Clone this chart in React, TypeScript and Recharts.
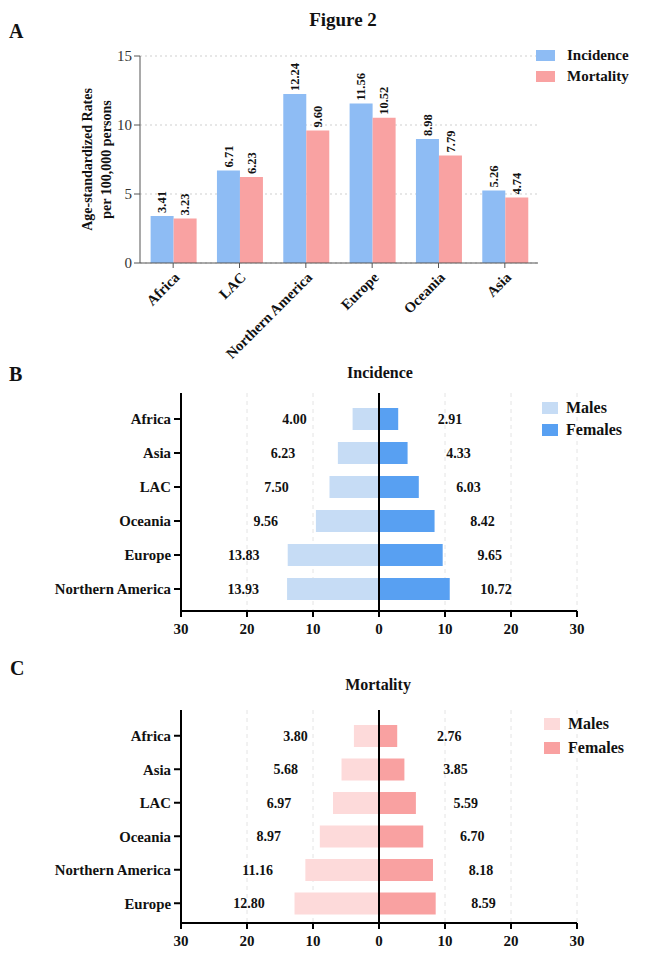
import React from 'react';
import {
  BarChart,
  Bar,
  XAxis,
  YAxis,
  CartesianGrid,
  Legend,
  LabelList,
  ReferenceLine,
  Label,
} from 'recharts';

const FONT = "'Liberation Serif', 'Times New Roman', Times, serif";

// ---------- Panel A data ----------
const regionsA = ['Africa', 'LAC', 'Northern America', 'Europe', 'Oceania', 'Asia'];
const incidenceA = [3.41, 6.71, 12.24, 11.56, 8.98, 5.26];
const mortalityA = [3.23, 6.23, 9.6, 10.52, 7.79, 4.74];
const ticksA = [0, 5, 10, 15];

// ---------- Panel B data (Incidence by sex) ----------
const regionsB = ['Africa', 'Asia', 'LAC', 'Oceania', 'Europe', 'Northern America'];
const malesB = [4.0, 6.23, 7.5, 9.56, 13.83, 13.93];
const femalesB = [2.91, 4.33, 6.03, 8.42, 9.65, 10.72];

// ---------- Panel C data (Mortality by sex) ----------
const regionsC = ['Africa', 'Asia', 'LAC', 'Oceania', 'Northern America', 'Europe'];
const malesC = [3.8, 5.68, 6.97, 8.97, 11.16, 12.8];
const femalesC = [2.76, 3.85, 5.59, 6.7, 8.18, 8.59];

const ticksPyr = [-30, -20, -10, 0, 10, 20, 30];
const legendOrder = ['Incidence', 'Mortality', 'Males', 'Females'];

const COLORS = {
  incidence: '#8ebcf4',
  mortality: '#f9a2a2',
  bMale: '#c6dcf5',
  bFemale: '#58a0f2',
  cMale: '#fddada',
  cFemale: '#f9a1a1',
};

const dataA = regionsA.map((r, i) => ({ region: r, incidence: incidenceA[i], mortality: mortalityA[i] }));
const makePyr = (regions: string[], males: number[], females: number[]) =>
  regions.map((r, i) => ({ region: r, male: males[i], maleNeg: -males[i], female: females[i] }));
const dataB = makePyr(regionsB, malesB, femalesB);
const dataC = makePyr(regionsC, malesC, femalesC);

// ---------- helpers ----------
const legendContent = (sq: [number, number], rowH: number, gap: number, fontSize: number) => (props: any) => {
  const payload = [...(props.payload || [])].sort(
    (a: any, b: any) => legendOrder.indexOf(a.value) - legendOrder.indexOf(b.value)
  );
  return (
    <div style={{ fontFamily: FONT, fontWeight: 'bold', fontSize, color: '#111' }}>
      {payload.map((it: any) => (
        <div key={it.value} style={{ display: 'flex', alignItems: 'center', height: rowH, whiteSpace: 'nowrap' }}>
          <span style={{ display: 'inline-block', width: sq[0], height: sq[1], background: it.color, marginRight: gap }} />
          <span>{it.value}</span>
        </div>
      ))}
    </div>
  );
};

const ABarLabel = (props: any) => {
  const { x, y, width, value } = props;
  const cx = x + width / 2;
  const ty = y - 3;
  return (
    <text
      transform={`translate(${cx},${ty}) rotate(-90)`}
      x={0}
      y={0}
      dy="0.35em"
      textAnchor="start"
      fontFamily={FONT}
      fontWeight="bold"
      fontSize={12.5}
      fill="#111"
    >
      {Number(value).toFixed(2)}
    </text>
  );
};

const ATick = (props: any) => {
  const { x, y, payload } = props;
  return (
    <text
      x={x}
      y={y}
      dy="0.71em"
      textAnchor="end"
      transform={`rotate(-45, ${x}, ${y})`}
      fontFamily={FONT}
      fontWeight="bold"
      fontSize={14.6}
      fill="#111"
    >
      {payload.value}
    </text>
  );
};

const pyrLabel = (side: 'male' | 'female') => (props: any) => {
  const { x, y, width, height, value } = props;
  const w = Math.abs(width);
  const left = Math.min(x, x + width);
  const right = Math.max(x, x + width);
  const cx = side === 'male' ? left - 64 + 0.22 * w : right + 54 - 0.11 * w;
  return (
    <text
      x={cx}
      y={y + height / 2}
      dy="0.35em"
      textAnchor="middle"
      fontFamily={FONT}
      fontWeight="bold"
      fontSize={14}
      fill="#111"
    >
      {Number(value).toFixed(2)}
    </text>
  );
};

const tickStyleBold = { fontFamily: FONT, fontWeight: 'bold', fontSize: 14.8, fill: '#111' } as any;

const Pyramid = (p: {
  data: any[];
  top: number;
  height: number;
  marginTop: number;
  marginBottom: number;
  pad: { top: number; bottom: number };
  maleColor: string;
  femaleColor: string;
  legendTop: number;
  legendLeft: number;
  legendRowH: number;
}) => (
  <div style={{ position: 'absolute', left: 0, top: p.top }}>
    <BarChart
      width={666}
      height={p.height}
      data={p.data}
      layout="vertical"
      stackOffset="sign"
      margin={{ top: p.marginTop, right: 9, bottom: p.marginBottom, left: 0 }}
    >
      <CartesianGrid horizontal={false} stroke="#e4e4e4" strokeDasharray="4 4" />
      <XAxis
        type="number"
        domain={[-30, 30]}
        ticks={ticksPyr}
        tickFormatter={(v: number) => String(Math.abs(v))}
        axisLine={{ stroke: '#000', strokeWidth: 2 }}
        tickLine={{ stroke: '#000', strokeWidth: 2 }}
        tickSize={6}
        tickMargin={6}
        height={30}
        tick={{ ...tickStyleBold, fontSize: 15 }}
        allowDataOverflow
      />
      <YAxis
        type="category"
        dataKey="region"
        width={181}
        padding={p.pad}
        axisLine={{ stroke: '#000', strokeWidth: 2 }}
        tickLine={{ stroke: '#000', strokeWidth: 2 }}
        tickSize={7}
        tickMargin={3}
        tick={tickStyleBold}
        interval={0}
      />
      <Legend
        layout="vertical"
        verticalAlign="top"
        align="right"
        content={legendContent([16, 12], p.legendRowH, 8, 16)}
        wrapperStyle={{ width: 80, left: p.legendLeft, top: p.legendTop, right: 'auto' }}
      />
      <Bar dataKey="maleNeg" name="Males" stackId="s" fill={p.maleColor} barSize={22} isAnimationActive={false}>
        <LabelList dataKey="male" content={pyrLabel('male')} />
      </Bar>
      <Bar dataKey="female" name="Females" stackId="s" fill={p.femaleColor} barSize={22} isAnimationActive={false}>
        <LabelList dataKey="female" content={pyrLabel('female')} />
      </Bar>
      <ReferenceLine x={0} stroke="#000" strokeWidth={2} />
    </BarChart>
  </div>
);

export default function App() {
  return (
    <div style={{ position: 'absolute', left: 0, top: 0, width: 666, height: 962, background: '#fff', fontFamily: FONT }}>
      {/* Panel A */}
      <div style={{ position: 'absolute', left: 0, top: 0 }}>
        <BarChart
          width={666}
          height={372}
          data={dataA}
          margin={{ top: 56, right: 18, bottom: 0, left: 0 }}
          barCategoryGap="16%"
          barGap={0}
        >
          <CartesianGrid vertical={false} stroke="#cfcfcf" strokeDasharray="2 3" />
          <XAxis
            dataKey="region"
            interval={0}
            height={109}
            tickSize={5}
            tickMargin={3}
            axisLine={{ stroke: '#555' }}
            tickLine={{ stroke: '#555' }}
            tick={<ATick />}
          />
          <YAxis
            domain={[0, 15]}
            ticks={ticksA}
            width={140}
            tickSize={6}
            tickMargin={2}
            axisLine={{ stroke: '#555' }}
            tickLine={{ stroke: '#555' }}
            tick={{ fontFamily: FONT, fontSize: 15, fill: '#333' }}
          >
            <Label
              content={(lp: any) => {
                const vb = lp.viewBox || { y: 56, height: 207 };
                const cy = vb.y + vb.height / 2;
                const st = { fontFamily: FONT, fontWeight: 'bold' as any, fontSize: 14, fill: '#111' };
                return (
                  <g>
                    <text transform={`translate(87,${cy}) rotate(-90)`} textAnchor="middle" dy="0.35em" {...st}>
                      Age-standardized Rates
                    </text>
                    <text transform={`translate(106,${cy}) rotate(-90)`} textAnchor="middle" dy="0.35em" {...st}>
                      per 100,000 persons
                    </text>
                  </g>
                );
              }}
            />
          </YAxis>
          <Legend
            layout="vertical"
            verticalAlign="top"
            align="right"
            content={legendContent([19, 11], 21, 12, 15)}
            wrapperStyle={{ width: 110, left: 536, top: 45, right: 'auto' }}
          />
          <Bar dataKey="incidence" name="Incidence" fill={COLORS.incidence} isAnimationActive={false}>
            <LabelList dataKey="incidence" content={ABarLabel} />
          </Bar>
          <Bar dataKey="mortality" name="Mortality" fill={COLORS.mortality} isAnimationActive={false}>
            <LabelList dataKey="mortality" content={ABarLabel} />
          </Bar>
        </BarChart>
      </div>

      {/* Panel B */}
      <Pyramid
        data={dataB}
        top={380}
        height={270}
        marginTop={13}
        marginBottom={9}
        pad={{ top: 9, bottom: 5 }}
        maleColor={COLORS.bMale}
        femaleColor={COLORS.bFemale}
        legendTop={17}
        legendLeft={542}
        legendRowH={22}
      />

      {/* Panel C */}
      <Pyramid
        data={dataC}
        top={695}
        height={267}
        marginTop={15}
        marginBottom={9}
        pad={{ top: 9, bottom: 3 }}
        maleColor={COLORS.cMale}
        femaleColor={COLORS.cFemale}
        legendTop={17}
        legendLeft={544}
        legendRowH={24}
      />

      {/* Titles and panel letters */}
      <svg width={666} height={962} style={{ position: 'absolute', left: 0, top: 0, pointerEvents: 'none' }}>
        <text x={343} y={25.5} textAnchor="middle" fontFamily={FONT} fontWeight="bold" fontSize={19} fill="#111">
          Figure 2
        </text>
        <text x={9} y={38} fontFamily={FONT} fontWeight="bold" fontSize={20} fill="#111">A</text>
        <text x={9} y={381} fontFamily={FONT} fontWeight="bold" fontSize={20} fill="#111">B</text>
        <text x={10} y={675} fontFamily={FONT} fontWeight="bold" fontSize={20} fill="#111">C</text>
        <text x={380} y={378} textAnchor="middle" fontFamily={FONT} fontWeight="bold" fontSize={16} fill="#111">
          Incidence
        </text>
        <text x={378} y={690} textAnchor="middle" fontFamily={FONT} fontWeight="bold" fontSize={16} fill="#111">
          Mortality
        </text>
      </svg>
    </div>
  );
}
